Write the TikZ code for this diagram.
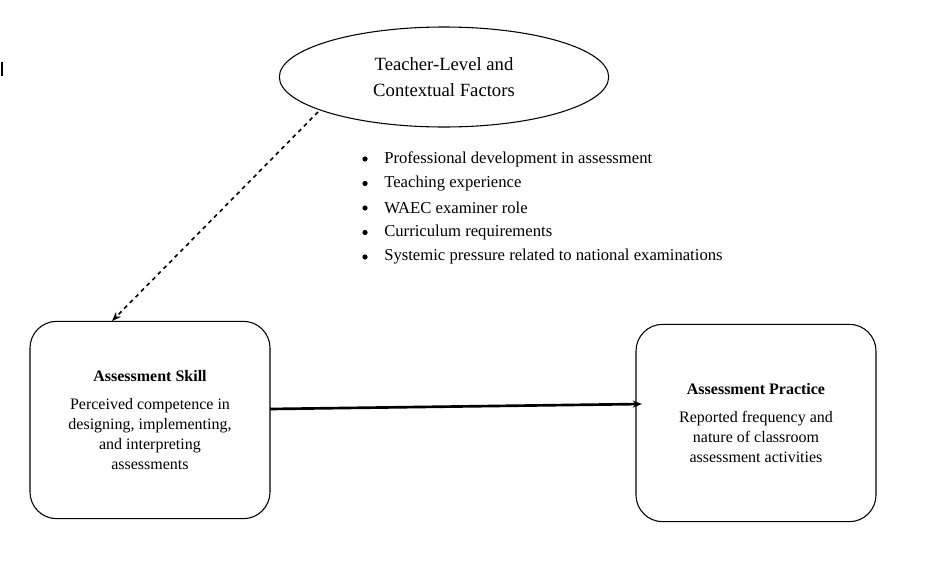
\documentclass[tikz,border=0pt]{standalone}
\usepackage{fontspec}
\setmainfont{Liberation Serif}
\usetikzlibrary{arrows.meta,shapes.geometric,calc}
\begin{document}
\begin{tikzpicture}[x=0.75pt,y=-0.75pt,
  box/.style={draw,rounded corners=20pt,line width=0.8pt,minimum width=180pt,minimum height=148pt,align=center,font=\fontsize{12}{15}\selectfont},
  itm/.style={anchor=west,font=\fontsize{12.5}{15}\selectfont,inner sep=0}]
\useasboundingbox (0,0) rectangle (927,582);
\node[draw,ellipse,line width=0.8pt,minimum width=247pt,minimum height=75pt,align=center,font=\fontsize{14}{19}\selectfont] (f) at (444,77) {Teacher-Level and\\Contextual Factors};
\node[box] (s) at (150,420) {\textbf{Assessment Skill}\\[6pt]Perceived competence in\\designing, implementing,\\and interpreting\\assessments};
\node[box] (p) at (756,423) {\textbf{Assessment Practice}\\[6pt]Reported frequency and\\nature of classroom\\assessment activities};
\foreach \t [count=\i] in {Professional development in assessment,Teaching experience,WAEC examiner role,Curriculum requirements,Systemic pressure related to national examinations}{
  \node[itm] (b\i) at (384,{134.5+24.5*\i}) {\t};
  \fill ($(b\i.west)+(-19,0)$) circle (2.6);
}
\coordinate (d1) at (318,112);
\coordinate (d2) at (112,321);
\draw[dashed,line width=1.2pt,-{Stealth[length=7pt]}] (d1) -- (d2);
\coordinate (a1) at (270,409);
\coordinate (a2) at (642,404);
\draw[line width=2pt,-{Stealth[length=7pt]}] (a1) -- (a2);
\coordinate (m1) at (2,62); \coordinate (m2) at (2,76);
\draw[line width=0.8pt] (m1) -- (m2);
\end{tikzpicture}
\end{document}
